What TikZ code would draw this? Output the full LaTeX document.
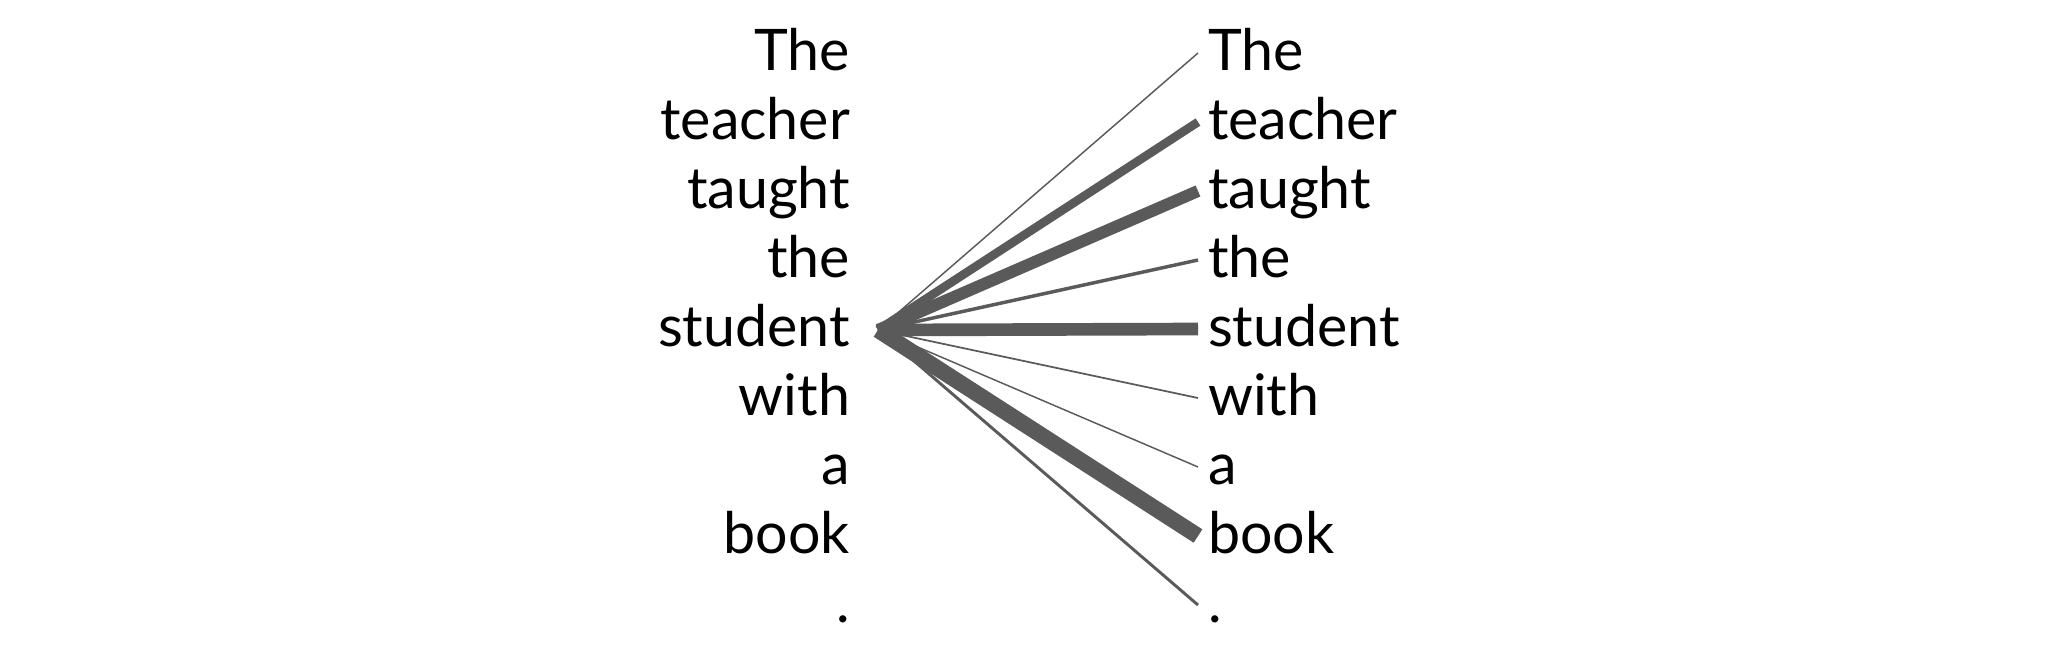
\documentclass[tikz,border=0pt]{standalone}
\usepackage{fontspec}
\setmainfont{Lato}
\usetikzlibrary{calc}
\definecolor{attn}{HTML}{5A5A5A}
\tikzset{
  word/.style={inner sep=0pt, outer sep=0pt, font=\fontsize{43pt}{50pt}\selectfont, text=black},
  lword/.style={word, anchor=base east},
  rword/.style={word, anchor=base west},
  link/.style={draw=attn, line cap=butt},
}
\begin{document}
\begin{tikzpicture}[x=0.75pt, y=-0.75pt]
\useasboundingbox (0,0) rectangle (2060,664);
% left column
\node[lword] (l1) at (850,70) {The};
\node[lword] (l2) at (850,139) {teacher};
\node[lword] (l3) at (850,208) {taught};
\node[lword] (l4) at (850,277) {the};
\node[lword] (l5) at (850,346) {student};
\node[lword] (l6) at (850,415) {with};
\node[lword] (l7) at (850,484) {a};
\node[lword] (l8) at (850,553) {book};
\node[lword] (l9) at (850,622) {.};
% right column
\node[rword] (r1) at (1208,70) {The};
\node[rword] (r2) at (1208,139) {teacher};
\node[rword] (r3) at (1208,208) {taught};
\node[rword] (r4) at (1208,277) {the};
\node[rword] (r5) at (1208,346) {student};
\node[rword] (r6) at (1208,415) {with};
\node[rword] (r7) at (1208,484) {a};
\node[rword] (r8) at (1208,553) {book};
\node[rword] (r9) at (1208,622) {.};
% source and targets
\coordinate (src) at ($(l5.base east)+(28,-16)$);
\foreach \i in {1,...,9} {
  \coordinate (t\i) at ($(r\i.base west)+(-10,-17)$);
}
\draw[link, line width=1.1pt] (src) -- (t1);
\draw[link, line width=6.5pt] (src) -- (t2);
\draw[link, line width=9pt] (src) -- (t3);
\draw[link, line width=2.6pt] (src) -- (t4);
\draw[link, line width=9.5pt] (src) -- (t5);
\draw[link, line width=1.3pt] (src) -- (t6);
\draw[link, line width=1.1pt] (src) -- (t7);
\draw[link, line width=12pt] (src) -- (t8);
\draw[link, line width=2.2pt] (src) -- (t9);
\end{tikzpicture}
\end{document}
